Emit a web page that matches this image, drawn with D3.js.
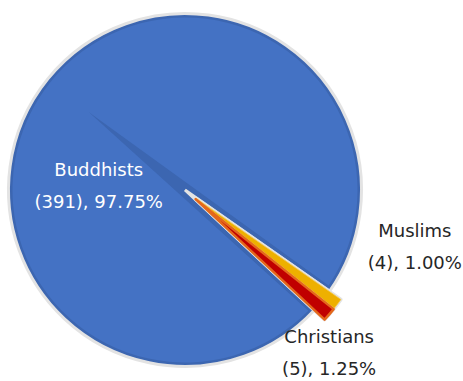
<!DOCTYPE html>
<html>
<head>
<meta charset="utf-8">
<script src="https://cdn.jsdelivr.net/npm/d3@7"></script>
<style>
  body { margin: 0; background: #fff; }
  text { font-family: "DejaVu Sans", Tahoma, sans-serif; font-size: 18px; }
</style>
</head>
<body>
<div id="chart"></div>
<script>
// chart values
var categories = ["Buddhists", "Muslims", "Christians"];
var counts = [391, 4, 5];

// layout
var width = 463, height = 381;
var cx = 185, cy = 190;
var radius = 176.5;
var explode = 14;      // small slices pulled out
var bevel = 4;         // dark inner rim of the big slice
var bevelBack = 124;   // how far the bevel streak runs behind the centre
var gapCentre = 129 * Math.PI / 180;

var fills = ["#4472C4", "#EEB000", "#C00000"];
var edges = ["#3C66B1", "#F5C84A", "#E4671B"];
var outline = "#E3E3E3";
var textColours = ["#ffffff", "#262626", "#262626"];
// label nudges from the slice centroid (dx, dy)
var labelNudge = [[-4, 69], [145, 0], [64, 100]];

var total = d3.sum(counts);
var data = categories.map(function(c, i) { return { key: c, value: counts[i], i: i }; });

var smallShare = (total - counts[0]) / total * 2 * Math.PI;
var start = gapCentre + smallShare / 2;

var pie = d3.pie()
  .sort(null)
  .value(function(d) { return d.value; })
  .startAngle(start)
  .endAngle(start + 2 * Math.PI);

var arcs = pie(data);

var arc = d3.arc().innerRadius(0).outerRadius(radius);
var labelArc = d3.arc().innerRadius(radius * 0.6).outerRadius(radius * 0.6);

var svg = d3.select("#chart")
  .append("svg")
    .attr("width", width)
    .attr("height", height)
  .append("g")
    .attr("transform", "translate(" + cx + "," + cy + ")");

// big slice: dark base, lighter inset, grey outline on top
var big = arcs[0];
svg.append("path")
  .attr("d", arc(big))
  .attr("fill", edges[0]);

var ri = radius - bevel;
var delta = bevel / ri;
var gx = Math.sin(gapCentre), gy = -Math.cos(gapCentre);
var p = d3.path();
p.moveTo(-gx * bevelBack, -gy * bevelBack);
var a0 = big.startAngle + delta, a1 = big.endAngle - delta;
p.lineTo(ri * Math.sin(a0), -ri * Math.cos(a0));
p.arc(0, 0, ri, a0 - Math.PI / 2, a1 - Math.PI / 2);
p.closePath();
svg.append("path")
  .attr("d", p.toString())
  .attr("fill", fills[0]);

svg.append("path")
  .attr("d", arc(big))
  .attr("fill", "none")
  .attr("stroke", outline)
  .attr("stroke-width", 3)
  .attr("stroke-linejoin", "miter")
  .attr("stroke-miterlimit", 9);

// small slices, exploded
var small = arcs.slice(1);
function shift(d) {
  var m = (d.startAngle + d.endAngle) / 2;
  return "translate(" + (explode * Math.sin(m)) + "," + (-explode * Math.cos(m)) + ")";
}

svg.selectAll(".halo")
  .data(small)
  .enter()
  .append("path")
    .attr("class", "halo")
    .attr("transform", shift)
    .attr("d", arc)
    .attr("fill", outline)
    .attr("stroke", outline)
    .attr("stroke-width", 3.5)
    .attr("stroke-linejoin", "round");

svg.selectAll(".slice")
  .data(small)
  .enter()
  .append("path")
    .attr("class", "slice")
    .attr("transform", shift)
    .attr("d", arc)
    .attr("fill", function(d) { return fills[d.data.i]; })
    .attr("stroke", function(d) { return edges[d.data.i]; })
    .attr("stroke-width", function(d) { return d.data.i === 2 ? 2.5 : 0.8; })
    .attr("stroke-linejoin", "round");

// labels
var labels = svg.selectAll(".label")
  .data(arcs)
  .enter()
  .append("text")
    .attr("class", "label")
    .attr("text-anchor", "middle")
    .attr("fill", function(d) { return textColours[d.data.i]; })
    .attr("transform", function(d) {
      var c = labelArc.centroid(d);
      var n = labelNudge[d.data.i];
      return "translate(" + (c[0] + n[0]) + "," + (c[1] + n[1]) + ")";
    });

labels.append("tspan")
  .attr("x", 0)
  .attr("y", -16)
  .text(function(d) { return d.data.key; });

labels.append("tspan")
  .attr("x", 0)
  .attr("y", 16)
  .text(function(d) {
    return "(" + d.data.value + "), " + (d.data.value / total * 100).toFixed(2) + "%";
  });
</script>
</body>
</html>
